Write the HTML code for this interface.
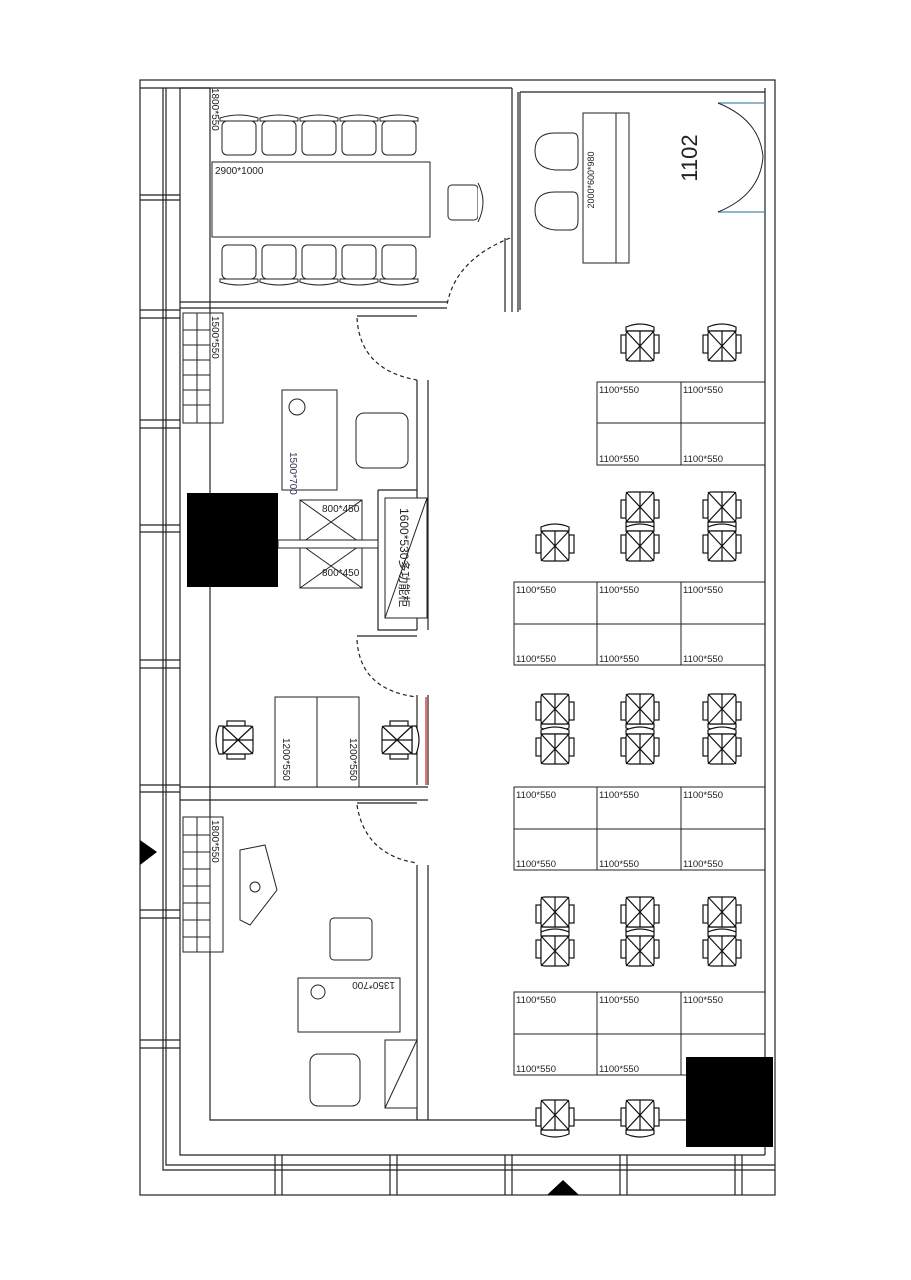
<!DOCTYPE html>
<html><head><meta charset="utf-8"><style>
html,body{margin:0;padding:0;background:#fff}
svg{display:block}
text{font-family:"Liberation Sans","Noto Sans CJK SC",sans-serif;fill:#222}
</style></head><body>
<svg width="911" height="1280" viewBox="0 0 911 1280" xmlns="http://www.w3.org/2000/svg">
<defs>
<g id="c" fill="#fff" stroke="#111" stroke-width="1.2">
<path d="M-14 -18 Q0 -24 14 -18 L14 -14 L-14 -14Z"/>
<rect x="-19" y="-10" width="5" height="18"/><rect x="14" y="-10" width="5" height="18"/>
<rect x="-14" y="-14" width="28" height="30" rx="3"/>
<path d="M-14 -14 L14 16 M14 -14 L-14 16 M0 -14 V16"/>
</g>
<g id="ac" fill="#fff" stroke="#222" stroke-width="1">
<path d="M-19 -19 Q0 -25 19 -19 L19 -16 L-19 -16Z"/>
<rect x="-17" y="-16" width="34" height="34" rx="5"/>
</g>
</defs>
<g fill="none" stroke="#222" stroke-width="1.2">
<rect x="140" y="80" width="635" height="1115"/>
<path d="M140 88 H512 M163 88 V1170 H775 M166 88 V1165 H775 M180 88 V1155 H765 M210 88 V1120 H690 M765 88 V1155 M520 92 H765 M520 92 V310"/>
<path d="M180 88 H210"/>
<path d="M140 195 H180 M140 200 H180 M140 310 H180 M140 318 H180 M140 420 H180 M140 428 H180 M140 525 H180 M140 532 H180 M140 660 H180 M140 668 H180 M140 785 H180 M140 792 H180 M140 910 H180 M140 918 H180 M140 1040 H180 M140 1048 H180"/>
<path d="M275 1155 V1195 M282 1155 V1195 M390 1155 V1195 M397 1155 V1195 M505 1155 V1195 M512 1155 V1195 M620 1155 V1195 M627 1155 V1195 M735 1155 V1195 M742 1155 V1195"/>
<path d="M180 302 H447 M180 308 H447 M512 88 V312 M518 92 V312"/>
<path d="M417 380 V630 M428 380 V630 M417 695 V785 M428 695 V785 M417 865 V1120 M428 865 V1120"/>
<path d="M180 787 H428 M180 800 H428"/>
<path d="M378 490 H417 M378 490 V630 H417"/>
<path stroke-dasharray="4 3" d="M510 238 Q455 260 447 305 M357 318 Q360 370 417 380 M357 640 Q360 690 417 697 M357 805 Q365 855 417 863"/>
<path d="M357 316 H417 M357 636 H417 M357 803 H417 M505 238 V312"/>
</g>
<path d="M426 697 V785" stroke="#d44" stroke-width="1.5"/>
<path d="M718 103 H765 M718 212 H765" stroke="#4a8ab0" stroke-width="1.2"/>
<path d="M718 103 Q760 120 763 157 Q760 195 718 212" fill="none" stroke="#222"/>
<g fill="#fff" stroke="#222" stroke-width="1">
<rect x="212" y="162" width="218" height="75"/>
<rect x="448" y="185" width="30" height="35" rx="4"/><path d="M478 183 Q488 202 478 222"/>
</g>
<g>
<use href="#ac" x="239" y="137"/><use href="#ac" x="279" y="137"/><use href="#ac" x="319" y="137"/><use href="#ac" x="359" y="137"/><use href="#ac" x="399" y="137"/>
<use href="#ac" transform="translate(239,263) scale(1,-1)"/><use href="#ac" transform="translate(279,263) scale(1,-1)"/><use href="#ac" transform="translate(319,263) scale(1,-1)"/><use href="#ac" transform="translate(359,263) scale(1,-1)"/><use href="#ac" transform="translate(399,263) scale(1,-1)"/>
</g>
<text x="215" y="174" font-size="10">2900*1000</text>
<text transform="translate(212,88) rotate(90)" font-size="10">1800*550</text>
<g fill="#fff" stroke="#222" stroke-width="1">
<rect x="583" y="113" width="46" height="150"/><path d="M616 113 V263"/>
<path d="M555 133 H573 Q578 133 578 140 V162 Q578 170 570 170 H555 Q535 168 535 151 Q535 133 555 133 Z"/>
<path d="M555 192 H573 Q578 192 578 199 V221 Q578 230 570 230 H555 Q535 228 535 210 Q535 192 555 192 Z"/>
</g>
<text transform="translate(594,180) rotate(-90)" font-size="9" text-anchor="middle">2000*600*980</text>
<text transform="translate(697,158) rotate(-90)" font-size="22" text-anchor="middle">1102</text>
<g fill="#fff" stroke="#222" stroke-width="1">
<rect x="183" y="313" width="40" height="110"/>
<path d="M183 330 H210 M183 345 H210 M183 360 H210 M183 375 H210 M183 390 H210 M183 405 H210 M197 313 V423 M210 313 V423"/>
<rect x="183" y="817" width="40" height="135"/>
<path d="M183 835 H210 M183 852 H210 M183 869 H210 M183 886 H210 M183 903 H210 M183 920 H210 M183 937 H210 M197 817 V952 M210 817 V952"/>
</g>
<text transform="translate(212,316) rotate(90)" font-size="10">1500*550</text>
<text transform="translate(212,820) rotate(90)" font-size="10">1800*550</text>
<g fill="#fff" stroke="#222" stroke-width="1">
<rect x="282" y="390" width="55" height="100"/>
<circle cx="297" cy="407" r="8"/>
<rect x="356" y="413" width="52" height="55" rx="8"/>
<rect x="300" y="500" width="62" height="88"/><path d="M300 500 L362 544 M362 500 L300 544 M300 544 L362 588 M362 544 L300 588 M300 544 H362"/>
<rect x="278" y="540" width="100" height="8"/>
<rect x="385" y="498" width="42" height="120"/><path d="M385 618 L427 498"/>
</g>
<text transform="translate(290,452) rotate(90)" font-size="10" style="fill:#335">1500*700</text>
<text x="322" y="512" font-size="10">800*450</text>
<text x="322" y="576" font-size="10">800*450</text>
<text transform="translate(400,508) rotate(90)" font-size="12">1600*530多功能柜</text>
<rect x="187" y="493" width="91" height="94" fill="#000"/>
<g fill="#fff" stroke="#222" stroke-width="1">
<rect x="275" y="697" width="42" height="90"/><rect x="317" y="697" width="42" height="90"/>
</g>
<text transform="translate(283,738) rotate(90)" font-size="10">1200*550</text>
<text transform="translate(350,738) rotate(90)" font-size="10">1200*550</text>
<use href="#c" transform="translate(237,740) rotate(-90)"/>
<use href="#c" transform="translate(398,740) rotate(90)"/>
<g fill="#fff" stroke="#222" stroke-width="1">
<path d="M240 850 L265 845 L277 890 L250 925 L240 920 Z"/><circle cx="255" cy="887" r="5"/>
<rect x="330" y="918" width="42" height="42" rx="4"/>
<rect x="298" y="978" width="102" height="54"/><circle cx="318" cy="992" r="7"/>
<rect x="310" y="1054" width="50" height="52" rx="8"/>
<rect x="385" y="1040" width="32" height="68"/><path d="M385 1108 L417 1040"/>
</g>
<text transform="translate(395,982) rotate(180)" font-size="10">1350*700</text>
<path d="M140 840 L157 852 L140 865Z" fill="#000"/>
<path d="M547 1195 L563 1180 L579 1195Z" fill="#000"/>
<g fill="none" stroke="#222" stroke-width="1">
<rect x="597" y="382" width="168" height="83"/><path d="M681 382 V465 M597 423 H765"/>
<rect x="514" y="582" width="251" height="83"/><path d="M597 582 V665 M681 582 V665 M514 624 H765"/>
<rect x="514" y="787" width="251" height="83"/><path d="M597 787 V870 M681 787 V870 M514 829 H765"/>
<rect x="514" y="992" width="251" height="83"/><path d="M597 992 V1075 M681 992 V1075 M514 1034 H765"/>
</g>
<g font-size="9.5">
<text x="599" y="393">1100*550</text><text x="683" y="393">1100*550</text><text x="599" y="462">1100*550</text><text x="683" y="462">1100*550</text>
<text x="516" y="593">1100*550</text><text x="599" y="593">1100*550</text><text x="683" y="593">1100*550</text>
<text x="516" y="662">1100*550</text><text x="599" y="662">1100*550</text><text x="683" y="662">1100*550</text>
<text x="516" y="798">1100*550</text><text x="599" y="798">1100*550</text><text x="683" y="798">1100*550</text>
<text x="516" y="867">1100*550</text><text x="599" y="867">1100*550</text><text x="683" y="867">1100*550</text>
<text x="516" y="1003">1100*550</text><text x="599" y="1003">1100*550</text><text x="683" y="1003">1100*550</text>
<text x="516" y="1072">1100*550</text><text x="599" y="1072">1100*550</text>
</g>
<use href="#c" x="640" y="345"/><use href="#c" x="722" y="345"/>
<use href="#c" x="555" y="545"/>
<use href="#c" transform="translate(640,508) scale(1,-1)"/><use href="#c" x="640" y="545"/>
<use href="#c" transform="translate(722,508) scale(1,-1)"/><use href="#c" x="722" y="545"/>
<use href="#c" transform="translate(555,710) scale(1,-1)"/><use href="#c" x="555" y="748"/>
<use href="#c" transform="translate(640,710) scale(1,-1)"/><use href="#c" x="640" y="748"/>
<use href="#c" transform="translate(722,710) scale(1,-1)"/><use href="#c" x="722" y="748"/>
<use href="#c" transform="translate(555,913) scale(1,-1)"/><use href="#c" x="555" y="950"/>
<use href="#c" transform="translate(640,913) scale(1,-1)"/><use href="#c" x="640" y="950"/>
<use href="#c" transform="translate(722,913) scale(1,-1)"/><use href="#c" x="722" y="950"/>
<use href="#c" transform="translate(555,1116) scale(1,-1)"/><use href="#c" transform="translate(640,1116) scale(1,-1)"/>
<rect x="686" y="1057" width="87" height="90" fill="#000"/>
</svg>
</body></html>
